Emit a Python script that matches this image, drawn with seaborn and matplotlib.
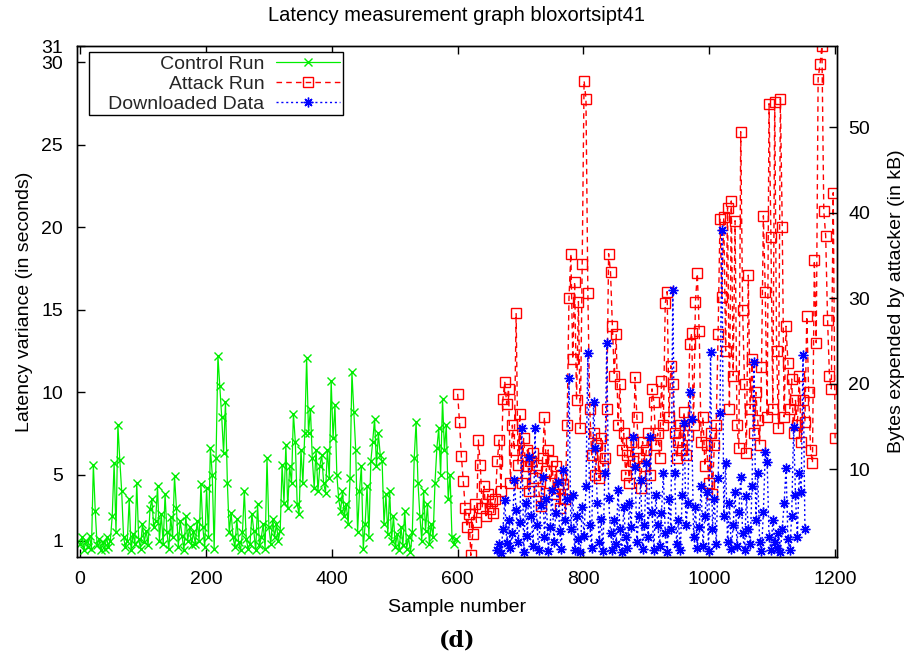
import numpy as np
import matplotlib
matplotlib.use("Agg")
import matplotlib.pyplot as plt
import seaborn as sns

# ---------------- data ----------------
control_x = np.arange(0, 600, 3)
control_y = [
    0.8, 1.2, 0.4, 1.0, 0.6, 1.3, 0.5, 5.6, 2.8, 0.7, 1.1, 0.4, 0.9, 0.5, 1.2, 0.6, 1.0, 2.5, 5.7, 1.5,
    8.0, 5.9, 4.0, 1.2, 0.6, 1.0, 3.5, 0.4, 1.4, 0.8, 4.5, 1.1, 0.5, 2.0, 0.9, 1.6, 0.7, 2.9, 3.5, 1.8,
    2.2, 4.3, 1.0, 2.6, 0.8, 3.8, 1.5, 0.5, 2.4, 1.2, 4.9, 3.0, 0.6, 2.2, 1.3, 0.4, 2.5, 1.0, 1.8, 0.7,
    1.5, 0.8, 2.2, 1.0, 4.4, 1.8, 0.6, 4.2, 1.2, 6.6, 5.0, 0.5, 6.0, 12.2, 10.4, 8.5, 6.3, 9.4, 4.5, 1.5,
    2.7, 1.2, 0.6, 2.3, 0.9, 0.4, 1.5, 4.0, 1.1, 0.5, 0.8, 2.6, 1.6, 0.4, 3.2, 0.7, 1.2, 2.0, 0.5, 6.0,
    1.8, 0.8, 2.3, 1.2, 2.0, 1.0, 1.6, 5.6, 3.3, 6.8, 3.0, 5.5, 4.5, 8.7, 7.0, 3.2, 2.6, 6.5, 4.5, 7.5,
    12.1, 7.5, 9.0, 6.0, 4.2, 6.5, 4.0, 5.5, 6.2, 4.5, 3.9, 6.5, 4.8, 10.7, 7.2, 9.2, 5.0, 3.5, 2.8, 4.0,
    2.5, 3.2, 2.0, 4.8, 11.2, 8.8, 6.5, 1.5, 4.0, 5.5, 0.5, 2.0, 4.3, 1.2, 5.8, 7.0, 8.4, 5.5, 7.5, 6.2,
    5.8, 2.0, 3.8, 1.4, 4.0, 1.0, 2.5, 0.6, 1.4, 0.4, 1.8, 0.7, 2.8, 0.5, 1.2, 0.3, 1.5, 6.0, 8.2, 4.5,
    2.5, 1.0, 4.0, 1.6, 3.2, 0.8, 2.0, 1.2, 4.5, 6.6, 7.8, 5.0, 9.6, 6.5, 8.0, 3.5, 5.0, 1.2, 0.8, 1.1,
]

attack_x = np.arange(600, 1201, 3)
attack_y = [
    9.9, 8.2, 6.1, 4.6, 3.0, 1.8, 2.6, 0.1, 1.4, 3.2, 2.1, 7.1, 5.6, 3.0, 4.3, 2.5, 3.8, 2.9, 3.4, 2.7,
    3.5, 5.8, 7.1, 4.0, 9.6, 10.6, 9.3, 10.2, 4.5, 8.0, 6.5, 14.8, 5.6, 8.7, 4.5, 7.2, 5.5, 6.5, 4.0, 5.8,
    6.3, 4.8, 5.6, 4.0, 3.1, 6.0, 8.5, 5.2, 6.5, 4.5, 5.8, 3.8, 5.5, 4.2, 3.0, 5.0, 4.4, 3.5, 8.0, 15.7,
    18.4, 12.0, 16.7, 9.5, 15.5, 7.8, 17.8, 28.9, 27.8, 16.0, 9.0, 6.2, 7.5, 5.0, 6.8, 4.8, 7.2, 5.5, 6.0, 9.0,
    18.4, 17.3, 14.0, 11.0, 13.5, 8.0, 10.5, 6.5, 7.5, 5.0, 6.2, 4.5, 7.0, 5.8, 10.9, 8.5, 6.0, 4.2, 7.0, 5.5,
    6.5, 7.5, 5.0, 10.2, 9.4, 6.8, 7.5, 6.0, 10.7, 8.0, 15.4, 16.1, 8.5, 11.6, 10.5, 7.5, 6.0, 7.0, 8.0, 6.5,
    8.8, 6.2, 7.4, 12.9, 13.6, 8.0, 15.5, 17.2, 13.7, 7.0, 8.5, 5.5, 6.8, 4.5, 7.5, 3.8, 6.8, 8.0, 13.5, 20.5,
    15.8, 20.6, 12.5, 21.2, 9.0, 21.6, 11.0, 20.4, 8.0, 6.6, 25.8, 15.0, 10.5, 6.3, 17.1, 9.0, 12.0, 7.5, 10.0, 8.3,
    6.8, 11.5, 20.7, 16.1, 8.5, 27.5, 19.4, 9.0, 27.6, 12.5, 7.8, 27.8, 20.0, 8.5, 14.0, 11.8, 9.0, 10.8, 7.5, 9.5,
    8.0, 11.0, 7.0, 9.5, 8.2, 14.6, 10.0, 6.5, 5.7, 18.0, 13.0, 29.0, 29.9, 31.0, 21.0, 19.5, 14.4, 11.0, 10.2, 22.1,
    7.2,
]

download_x = np.arange(663, 1153, 3)
download_y = [
    0.5, 1.2, 0.2, 3.0, 6.4, 1.3, 4.0, 0.8, 2.5, 8.7, 5.2, 1.5, 3.8, 14.8, 0.3, 6.0, 2.2, 11.4, 4.5, 1.0,
    14.8, 3.5, 0.5, 5.8, 9.1, 2.0, 6.5, 0.4, 3.2, 7.5, 1.5, 4.8, 8.5, 2.8, 0.6, 9.9, 4.0, 6.5, 20.6, 3.0,
    7.0, 0.5, 4.5, 1.8, 0.3, 5.5, 2.2, 8.0, 23.6, 3.5, 0.8, 17.8, 12.5, 6.0, 1.5, 4.2, 0.4, 9.5, 24.7, 6.6,
    2.5, 0.5, 4.0, 1.2, 7.5, 3.0, 0.3, 5.5, 2.0, 0.8, 6.0, 3.2, 13.7, 10.2, 1.5, 4.5, 8.7, 0.6, 3.5, 10.7,
    2.0, 13.7, 5.0, 0.5, 7.0, 3.5, 1.0, 4.8, 9.5, 2.5, 0.3, 6.5, 3.0, 30.9, 9.5, 1.2, 4.0, 0.5, 7.0, 15.4,
    3.5, 6.0, 19.0, 15.8, 2.0, 5.5, 0.8, 3.2, 8.0, 1.0, 4.5, 7.3, 0.4, 23.7, 3.0, 6.5, 1.2, 9.0, 16.5, 38.0,
    4.5, 10.7, 1.5, 6.0, 0.6, 3.5, 7.3, 1.0, 5.0, 9.1, 2.5, 0.5, 6.8, 3.0, 1.2, 8.0, 22.5, 4.0, 9.5, 1.5,
    0.4, 5.0, 12.0, 10.8, 2.0, 0.5, 4.0, 1.5, 0.8, 2.5, 0.3, 3.0, 6.0, 10.1, 1.8, 0.5, 4.5, 14.9, 7.0, 2.0,
    9.5, 7.3, 23.3, 3.0,
]

x_ticks = [0, 200, 400, 600, 800, 1000, 1200]
y_ticks = [1, 5, 10, 15, 20, 25, 30, 31]
y2_ticks = [10, 20, 30, 40, 50]

# ---------------- style ----------------
sns.set_theme(style="white")
plt.rcParams['font.family'] = ['Liberation Sans', 'DejaVu Sans']
plt.rcParams['axes.linewidth'] = 1.0

FS = 14

fig = plt.figure(figsize=(9.08, 6.64), dpi=100)
ax = fig.add_axes([0.0848, 0.1611, 0.8370, 0.7696])
ax2 = ax.twinx()

green = '#00ee00'
sns.lineplot(x=control_x, y=control_y, ax=ax, sort=False, estimator=None,
             color=green, linewidth=0.9, linestyle='-', marker='x',
             markersize=6, markeredgewidth=1.0, markeredgecolor=green,
             label='   Control Run', legend=False)
sns.lineplot(x=attack_x, y=attack_y, ax=ax, sort=False, estimator=None,
             color='#ff0000', linewidth=1.0, linestyle=(0, (4, 3)), marker='s',
             markersize=6.5, markerfacecolor='none', markeredgecolor='#ff0000',
             markeredgewidth=1.0, label='   Attack Run', legend=False)
sns.lineplot(x=download_x, y=download_y, ax=ax2, sort=False, estimator=None,
             color='#0000ff', linewidth=1.0, linestyle=(0, (1.5, 2)), marker=(8, 2, 0),
             markersize=7, markeredgewidth=1.0, markeredgecolor='#0000ff',
             label='   Downloaded Data', legend=False)

ax.set_xlim(-5, 1203)
ax.set_ylim(0, 31)
ax2.set_ylim(-0.3, 59.5)

ax.set_xticks(x_ticks)
ax.set_yticks(y_ticks)
ax2.set_yticks(y2_ticks)

ax.tick_params(axis='x', direction='in', length=6, width=1, top=True, bottom=True,
               labelsize=FS, colors='black', pad=10)
ax.tick_params(axis='y', direction='in', length=6, width=1, left=True, right=False,
               labelsize=FS, colors='black', pad=10)
ax2.tick_params(axis='y', direction='in', length=6, width=1, right=True, left=False,
                labelsize=FS, colors='black', pad=8)

for a in (ax, ax2):
    for s in a.spines.values():
        s.set_color('black')
        s.set_linewidth(1.0)
        s.set_visible(True)

ax.set_xlabel('Sample number', fontsize=FS, color='black', labelpad=8)
ax.set_ylabel('Latency variance (in seconds)', fontsize=FS, color='black', labelpad=6)
ax2.set_ylabel('Bytes expended by attacker (in kB)', fontsize=FS, color='black', labelpad=13)

fig.text(0.503, 0.977, 'Latency measurement graph bloxortsipt41', ha='center', va='center',
         fontsize=14.5, color='black')
fig.text(0.503, 0.036, '(d)', ha='center', va='center', fontsize=16, fontweight='bold',
         family=['DejaVu Serif'], color='black')

h1, l1 = ax.get_legend_handles_labels()
h2, l2 = ax2.get_legend_handles_labels()
leg = ax2.legend(h1 + h2, l1 + l2, loc='upper left', bbox_to_anchor=(0.016, 0.988),
                 markerfirst=False, frameon=True, fancybox=False, framealpha=1,
                 edgecolor='black', fontsize=FS, handlelength=3.3, numpoints=1,
                 labelspacing=0.12, borderpad=0.15, handletextpad=0.6, borderaxespad=0)
leg.get_frame().set_linewidth(1.0)

fig.savefig('out.png', dpi=100)
